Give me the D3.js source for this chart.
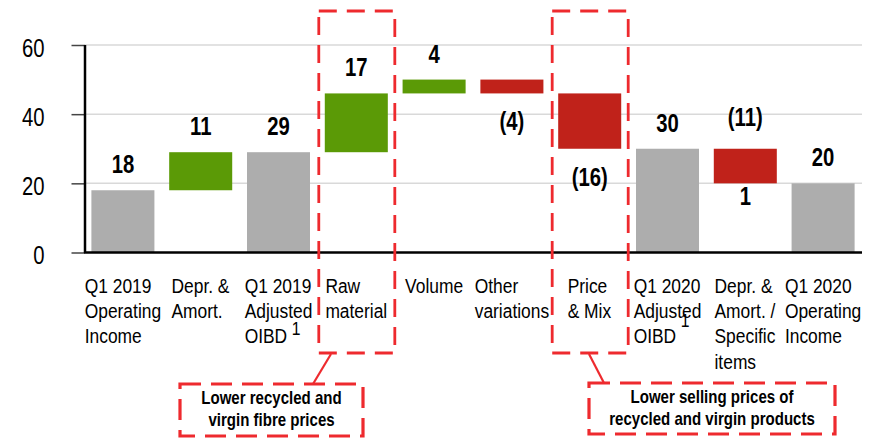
<!DOCTYPE html>
<html><head><meta charset="utf-8">
<script src="https://cdn.jsdelivr.net/npm/d3@7"></script>
<style>
body{margin:0;background:#fff}
svg{display:block}
text{font-family:"Liberation Sans",Arial,Helvetica,sans-serif;fill:#000}
</style>
</head><body>
<svg id="chart" width="877" height="439"></svg>
<script>
// ---------- data ----------
const categories = [
  ["Q1 2019","Operating","Income"],
  ["Depr. &","Amort."],
  ["Q1 2019","Adjusted","OIBD"],
  ["Raw","material"],
  ["Volume"],
  ["Other","variations"],
  ["Price","& Mix"],
  ["Q1 2020","Adjusted","OIBD"],
  ["Depr. &","Amort. /","Specific","items"],
  ["Q1 2020","Operating","Income"]
];
const barTypes  = ["total","inc","total","inc","inc","dec","dec","total","dec","total"];
const barValues = [18, 11, 29, 17, 4, -4, -16, 30, -10, 20];
const topLabels    = ["18","11","29","17","4","","","30","(11)","20"];
const bottomLabels = ["","","","","","(4)","(16)","","1",""];
const superscripts = ["","","1","","","","","1","",""];
const yTicks = [0, 20, 40, 60];
const highlightIdx = [3, 6];
const calloutTexts = [
  ["Lower recycled and","virgin fibre prices"],
  ["Lower selling prices of","recycled and virgin products"]
];

// ---------- layout / style ----------
const colors = {total:"#adadad", inc:"#5b9a06", dec:"#c0221a", dash:"#ee2a2e"};
const svg = d3.select("#chart");

const x = d3.scaleBand().domain(d3.range(categories.length))
  .range([84, 862]).paddingInner(0.19).paddingOuter(0.095);
const y = d3.scaleLinear().domain([0, 60]).range([252.5, 45]);
const bw = x.bandwidth();

// cumulative positions
let run = 0;
const bars = barValues.map((v, i) => {
  let s, e;
  if (barTypes[i] === "total") { s = 0; e = v; }
  else { s = run; e = run + v; }
  run = e;
  return {i, type: barTypes[i], lo: Math.min(s, e), hi: Math.max(s, e)};
});

// gridlines
svg.append("g").selectAll("line").data(yTicks.filter(d => d > 0)).join("line")
  .attr("x1", 84).attr("x2", 862)
  .attr("y1", d => y(d)).attr("y2", d => y(d))
  .attr("stroke", "#d9d9d9").attr("stroke-width", 1.5);

// bars
svg.append("g").selectAll("rect").data(bars).join("rect")
  .attr("x", d => x(d.i)).attr("width", bw)
  .attr("y", d => y(d.hi)).attr("height", d => y(d.lo) - y(d.hi))
  .attr("fill", d => colors[d.type]);

// y axis
const yAxis = d3.axisLeft(y).tickValues(yTicks).tickSize(13).tickPadding(0).tickFormat(d3.format("d"));
const ya = svg.append("g").attr("transform", "translate(84.5,0)").call(yAxis);
ya.select(".domain").remove();
ya.selectAll(".tick line").attr("stroke", "#444").attr("stroke-width", 1.5);
ya.selectAll(".tick text").remove();
ya.selectAll(".tick").append("text")
  .attr("transform", "translate(-40,11) scale(0.78,1)")
  .attr("text-anchor", "end")
  .style("font-size", "26px")
  .text(d => d);
svg.append("line").attr("x1", 85).attr("x2", 85).attr("y1", 45).attr("y2", 253)
  .attr("stroke", "#000").attr("stroke-width", 2.5);
svg.append("line").attr("x1", 84).attr("x2", 862).attr("y1", 252.5).attr("y2", 252.5)
  .attr("stroke", "#000").attr("stroke-width", 2.7);

// value labels
const lab = svg.append("g");
bars.forEach(d => {
  const cx = x(d.i) + bw / 2;
  const t = topLabels[d.i];
  if (t) {
    const by = y(d.hi) - 17 - (t.includes("(") ? 6 : 0);
    lab.append("text").attr("transform", `translate(${cx},${by}) scale(0.78,1)`)
      .attr("text-anchor", "middle").style("font-size", "26px").style("font-weight", "bold").text(t);
  }
  const b = bottomLabels[d.i];
  if (b) {
    const by = y(d.lo) + (b.includes("(") ? 37 : 22);
    lab.append("text").attr("transform", `translate(${cx},${by}) scale(0.78,1)`)
      .attr("text-anchor", "middle").style("font-size", "26px").style("font-weight", "bold").text(b);
  }
});

// category labels (left-aligned block centred under the band)
const supRaise = {2: 8, 7: 16};
const catG = svg.append("g");
categories.forEach((lines, i) => {
  const g = catG.append("g").attr("transform", `translate(${x(i) + bw / 2},0)`);
  const inner = g.append("g").attr("transform", "scale(0.87,1)");
  const texts = lines.map((ln, k) => inner.append("text")
    .attr("x", 0).attr("y", 292.7 + k * 25.3)
    .style("font-size", "20px").text(ln));
  const w = inner.node().getBBox().width;
  texts.forEach(t => t.attr("x", -w / 2));
  if (superscripts[i]) {
    const last = texts[texts.length - 1];
    const lw = last.node().getComputedTextLength();
    inner.append("text")
      .attr("x", -w / 2 + lw + 4.5 / 0.87)
      .attr("y", 292.7 + (lines.length - 1) * 25.3 - supRaise[i])
      .style("font-size", "18px").text(superscripts[i]);
  }
});

// dashed highlight boxes around categories
svg.append("g").selectAll("rect").data(highlightIdx).join("rect")
  .attr("x", i => x(i) - 6).attr("width", bw + 13)
  .attr("y", 11).attr("height", 342)
  .attr("fill", "none").attr("stroke", colors.dash).attr("stroke-width", 2.8)
  .attr("stroke-dasharray", "18,10");

// callouts
const calloutBoxes = [
  {x0:180, x1:363, y0:384, y1:436, lx0:331, ly0:354, lx1:313, ly1:384},
  {x0:589, x1:835, y0:383, y1:434, lx0:589, ly0:354, lx1:604, ly1:383}
];
calloutBoxes.forEach((b, k) => {
  svg.append("line").attr("x1", b.lx0).attr("y1", b.ly0).attr("x2", b.lx1).attr("y2", b.ly1)
    .attr("stroke", colors.dash).attr("stroke-width", 2.2);
  svg.append("rect").attr("x", b.x0).attr("y", b.y0)
    .attr("width", b.x1 - b.x0).attr("height", b.y1 - b.y0)
    .attr("fill", "#fff").attr("stroke", colors.dash).attr("stroke-width", 3.2)
    .attr("stroke-dasharray", "21,10");
  calloutTexts[k].forEach((ln, j) => {
    svg.append("text")
      .attr("transform", `translate(${(b.x0 + b.x1) / 2},${b.y0 + 19.5 + j * 22}) scale(0.86,1)`)
      .attr("text-anchor", "middle").style("font-size", "17.5px").style("font-weight", "bold")
      .text(ln);
  });
});
</script>
</body></html>
